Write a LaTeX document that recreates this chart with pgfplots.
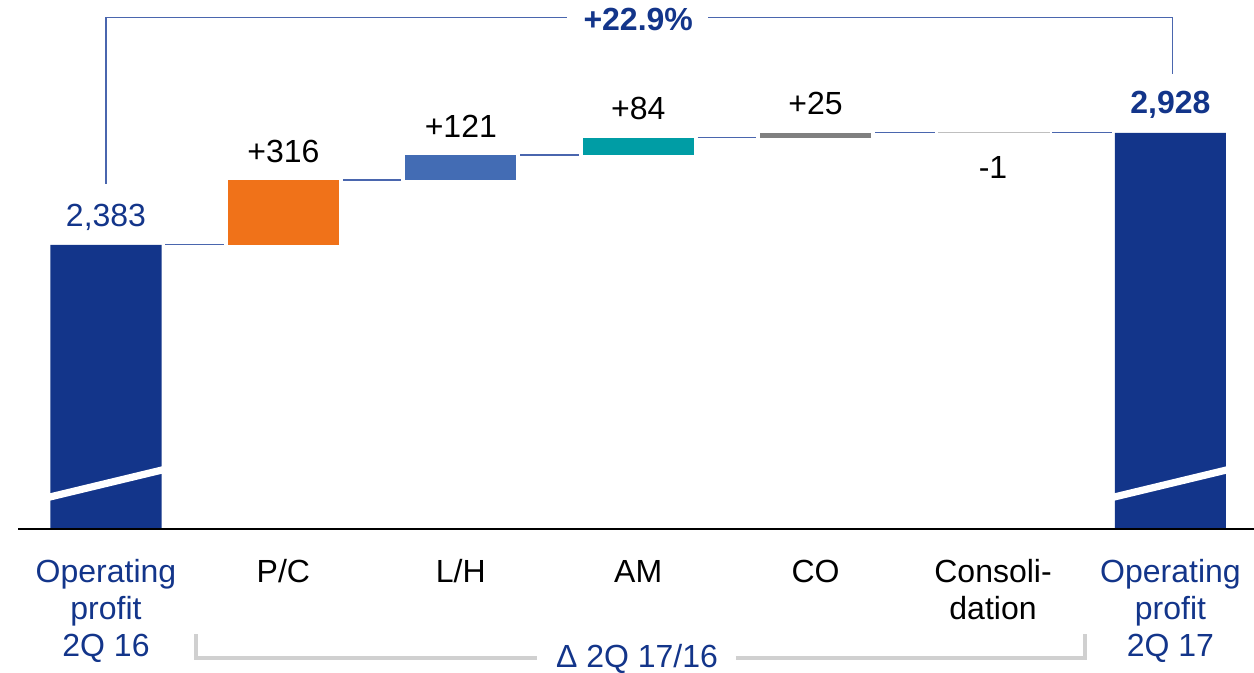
\documentclass[border=0pt]{standalone}
\usepackage{pgfplots}
\pgfplotsset{compat=1.18}
\usepackage{fontspec}
\setmainfont{Liberation Sans}

\definecolor{opblue}{HTML}{13358A}
\definecolor{pcorange}{HTML}{F07219}
\definecolor{lhblue}{HTML}{436CB4}
\definecolor{amteal}{HTML}{009DA5}
\definecolor{cogrey}{HTML}{808080}
\definecolor{consgrey}{HTML}{BFBFBF}
\definecolor{connblue}{HTML}{4A66AE}
\definecolor{bracketgrey}{HTML}{D0D0D0}

\begin{document}
\begin{tikzpicture}[font=\fontsize{16}{18.5}\selectfont]
\begin{axis}[
  scale only axis, width=618pt, height=264.5pt,
  xmin=-0.496, xmax=6.471, ymin=1000, ymax=3574,
  ybar stacked, bar width=55.5pt,
  axis x line=bottom, axis y line=none,
  axis line style={-, black, line width=0.7pt},
  clip mode=individual,
  xtick={0,...,6}, xtick style={draw=none},
  xticklabels={
    {\strut\textcolor{opblue}{Operating}\\\textcolor{opblue}{profit}\\\textcolor{opblue}{2Q 16}},
    \strut P/C, \strut L/H, \strut AM, \strut CO, {\strut Consoli-\\dation},
    {\strut\textcolor{opblue}{Operating}\\\textcolor{opblue}{profit}\\\textcolor{opblue}{2Q 17}}},
  xticklabel style={align=center, anchor=north, inner sep=0pt, yshift=-11.3pt,
    font=\fontsize{16}{18.5}\selectfont},
  ytick=\empty,
]

% invisible base of the floating bars
\addplot[draw=none, fill=none] coordinates {(0,0) (1,2383) (2,2699) (3,2820) (4,2904) (5,2929) (6,0)};
% totals
\addplot[fill=opblue, draw=none] coordinates {(0,2383) (1,0) (2,0) (3,0) (4,0) (5,0) (6,2928)};
% P/C
\addplot[fill=pcorange, draw=none] coordinates {(0,0) (1,316) (2,0) (3,0) (4,0) (5,0) (6,0)};
% L/H
\addplot[fill=lhblue, draw=none] coordinates {(0,0) (1,0) (2,121) (3,0) (4,0) (5,0) (6,0)};
% AM
\addplot[fill=amteal, draw=none] coordinates {(0,0) (1,0) (2,0) (3,84) (4,0) (5,0) (6,0)};
% CO
\addplot[fill=cogrey, draw=none] coordinates {(0,0) (1,0) (2,0) (3,0) (4,25) (5,0) (6,0)};
% Consolidation
\addplot[fill=consgrey, draw=none] coordinates {(0,0) (1,0) (2,0) (3,0) (4,0) (5,-1) (6,0)};

% connectors
\draw[connblue, line width=0.7pt] (axis cs:0.335,2383) -- (axis cs:0.665,2383);
\draw[connblue, line width=0.7pt] (axis cs:1.335,2699) -- (axis cs:1.665,2699);
\draw[connblue, line width=0.7pt] (axis cs:2.335,2820) -- (axis cs:2.665,2820);
\draw[connblue, line width=0.7pt] (axis cs:3.335,2904) -- (axis cs:3.665,2904);
\draw[connblue, line width=0.7pt] (axis cs:4.335,2929) -- (axis cs:4.67,2929);
\draw[consgrey, line width=0.7pt] (axis cs:4.69,2928.5) -- (axis cs:5.32,2928.5);
\draw[connblue, line width=0.7pt] (axis cs:5.335,2928) -- (axis cs:5.67,2928);

% points for the axis break marks on the totals
\coordinate (b0l) at (axis cs:-0.33,1153);
\coordinate (b0r) at (axis cs:0.33,1290);
\coordinate (b6l) at (axis cs:5.67,1153);
\coordinate (b6r) at (axis cs:6.33,1290);
\coordinate (base0) at (axis cs:-0.496,1000);
\coordinate (base1) at (axis cs:6.471,1000);

% value labels
\node[anchor=base, yshift=9pt, text=opblue] at (axis cs:0,2383) {2,383};
\node[anchor=base, yshift=8.5pt] at (axis cs:1,2699) {+316};
\node[anchor=base, yshift=8.5pt] at (axis cs:2,2820) {+121};
\node[anchor=base, yshift=9pt] at (axis cs:3,2904) {+84};
\node[anchor=base, yshift=9pt] at (axis cs:4,2929) {+25};
\node[anchor=base, yshift=-23pt] at (axis cs:5,2928) {-1};
\node[anchor=base, yshift=9.5pt, text=opblue, font=\fontsize{16}{18.5}\selectfont\bfseries] at (axis cs:6,2928) {2,928};

% top bracket
\draw[connblue, line width=0.7pt] (axis cs:0,2679) -- (axis cs:0,3489) -- (axis cs:2.599,3489);
\draw[connblue, line width=0.7pt] (axis cs:3.394,3489) -- (axis cs:6.01,3489) -- (axis cs:6.01,3214);
\node[anchor=base, yshift=-6.75pt, text=opblue, font=\fontsize{16}{18.5}\selectfont\bfseries] at (axis cs:3,3489) {+22.9\%};

% bottom bracket
\draw[bracketgrey, line width=2pt] (axis cs:0.507,489) -- (axis cs:0.507,372) -- (axis cs:2.43,372);
\draw[bracketgrey, line width=2pt] (axis cs:3.551,372) -- (axis cs:5.519,372) -- (axis cs:5.519,489);
\node[anchor=base, text=opblue] at (axis cs:2.993,324) {Δ 2Q 17/16};

\coordinate (bbsw) at (axis cs:-0.5975,304);
\coordinate (bbne) at (axis cs:6.471,3574);
\end{axis}
\draw[white, line width=3.6pt] (b0l) -- (b0r);
\draw[white, line width=3.6pt] (b6l) -- (b6r);
\draw[black, line width=0.7pt] (base0) -- (base1);
\pgfresetboundingbox
\path[use as bounding box] (bbsw) rectangle (bbne);
\end{tikzpicture}
\end{document}
